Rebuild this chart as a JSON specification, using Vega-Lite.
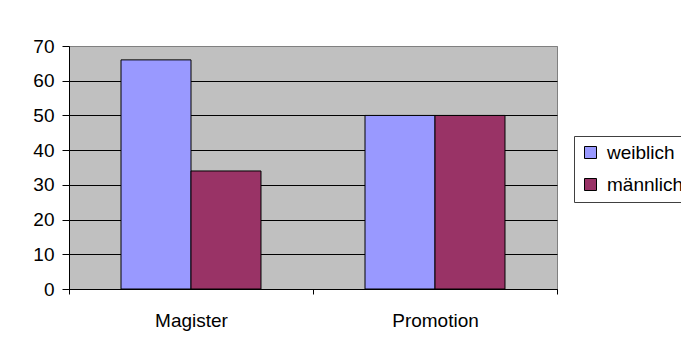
{
  "$schema": "https://vega.github.io/schema/vega-lite/v6.json",
  "width": 488,
  "height": 243,
  "autosize": {"type": "none"},
  "padding": {"left": 69, "top": 46, "right": 124, "bottom": 58},
  "background": "white",
  "data": {
    "values": [
      {"Abschluss": "Magister", "Geschlecht": "weiblich", "Anteil": 66},
      {"Abschluss": "Magister", "Geschlecht": "männlich", "Anteil": 34},
      {"Abschluss": "Promotion", "Geschlecht": "weiblich", "Anteil": 50},
      {"Abschluss": "Promotion", "Geschlecht": "männlich", "Anteil": 50}
    ]
  },
  "mark": {"type": "bar", "stroke": "black", "strokeWidth": 1},
  "encoding": {
    "x": {
      "field": "Abschluss",
      "type": "nominal",
      "scale": {"paddingInner": 0, "paddingOuter": 0},
      "axis": {
        "title": null,
        "labelAngle": 0,
        "tickBand": "extent",
        "grid": false,
        "domainColor": "black",
        "tickColor": "black",
        "tickSize": 5,
        "labelPadding": 17,
        "labelFontSize": 19,
        "labelColor": "black"
      }
    },
    "xOffset": {
      "field": "Geschlecht",
      "type": "nominal",
      "sort": ["weiblich", "männlich"],
      "scale": {"paddingInner": 0, "paddingOuter": 0.743}
    },
    "y": {
      "field": "Anteil",
      "type": "quantitative",
      "scale": {"domain": [0, 70], "nice": false},
      "axis": {
        "title": null,
        "values": [0, 10, 20, 30, 40, 50, 60, 70],
        "grid": true,
        "gridColor": {
          "condition": {"test": "datum.value === 70", "value": "#808080"},
          "value": "black"
        },
        "gridWidth": 1,
        "domainColor": "black",
        "tickColor": "black",
        "tickSize": 7,
        "labelPadding": 8,
        "labelFontSize": 19,
        "labelColor": "black"
      }
    },
    "color": {
      "field": "Geschlecht",
      "type": "nominal",
      "sort": ["weiblich", "männlich"],
      "scale": {"domain": ["weiblich", "männlich"], "range": ["#9999FF", "#993366"]},
      "legend": {
        "title": null,
        "orient": "none",
        "legendX": 505,
        "legendY": 90,
        "strokeColor": "#404040",
        "fillColor": "white",
        "padding": 7,
        "symbolType": "square",
        "symbolSize": 144,
        "symbolStrokeColor": "black",
        "symbolStrokeWidth": 1,
        "symbolOpacity": 1,
        "labelFontSize": 19,
        "labelColor": "black",
        "labelOffset": 7,
        "rowPadding": 12
      }
    }
  },
  "config": {
    "font": "Liberation Sans",
    "view": {"fill": "#C0C0C0", "stroke": "#808080", "strokeWidth": 1}
  }
}
